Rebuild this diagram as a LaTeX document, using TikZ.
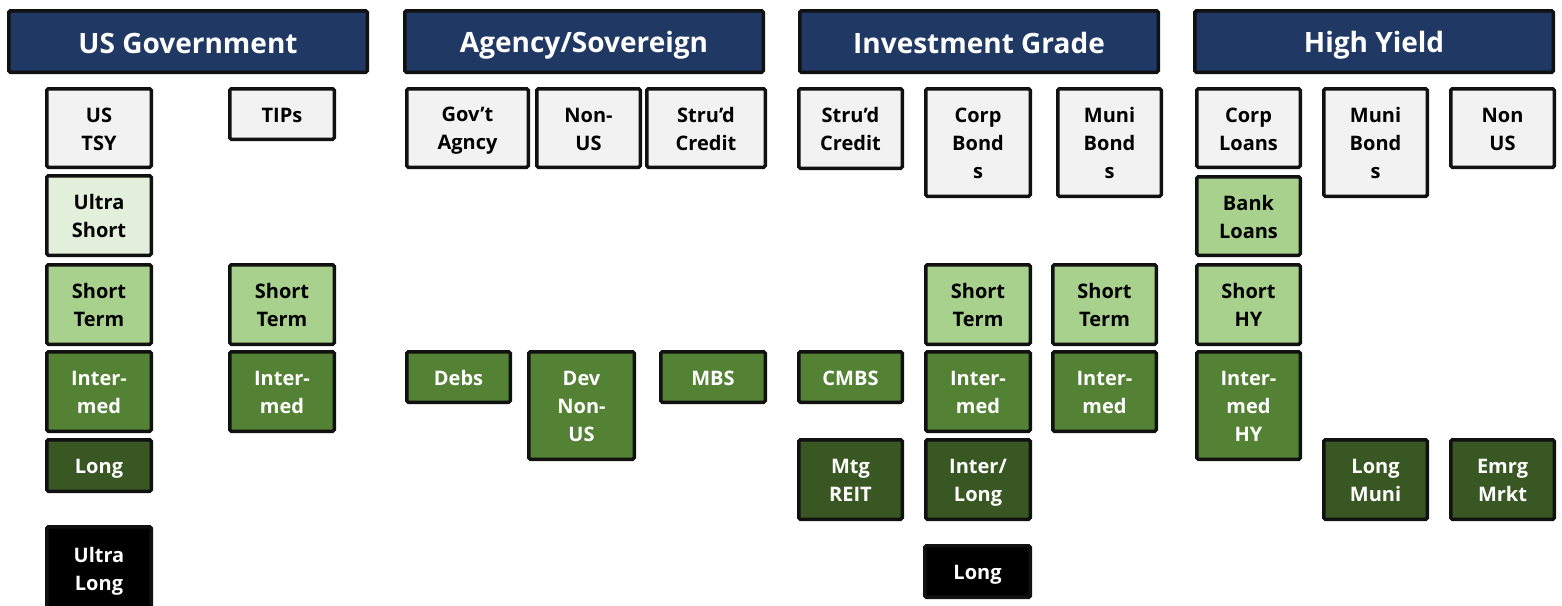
\documentclass[tikz,border=0pt]{standalone}
\usepackage{fontspec}
\setmainfont{Open Sans}
\definecolor{navy}{HTML}{203864}
\definecolor{cellgray}{HTML}{F2F2F2}
\definecolor{palegreen}{HTML}{E2EFDA}
\definecolor{lightgreen}{HTML}{A9D18E}
\definecolor{midgreen}{HTML}{548235}
\definecolor{darkgreen}{HTML}{385723}
\definecolor{edge}{HTML}{111111}
% struts fixing the height of the first line and the depth of the last one
\newcommand{\cellstrut}{\rule[-4pt]{0pt}{24pt}}
\newcommand{\headstrut}{\rule[-4pt]{0pt}{32pt}}
\tikzset{
  cellbase/.style={draw=edge, line width=3.5pt, rounded corners=1.5pt, inner sep=0pt,
    align=center, font=\fontsize{20}{28}\selectfont\bfseries},
  header/.style={cellbase, fill=navy, text=white, font=\fontsize{28}{32}\selectfont\bfseries,
    execute at begin node=\headstrut, execute at end node=\headstrut},
  cgray/.style={cellbase, fill=cellgray, text=black},
  cpale/.style={cellbase, fill=palegreen, text=black},
  clight/.style={cellbase, fill=lightgreen, text=black},
  cmid/.style={cellbase, fill=midgreen, text=white},
  cdark/.style={cellbase, fill=darkgreen, text=white},
  cblack/.style={cellbase, fill=black, text=white},
}
% #1 name, #2 left, #3 top, #4 right, #5 bottom (outer edges), #6 style, #7 text
\newcommand{\cellbox}[7]{%
  \pgfmathsetmacro\cbw{#4-#2-3.5}%
  \pgfmathsetmacro\cbh{#5-#3-3.5}%
  \pgfmathsetmacro\cbx{(#2+#4)/2}%
  \pgfmathsetmacro\cby{(#3+#5)/2}%
  \node[#6, minimum width=\cbw pt, minimum height=\cbh pt] (#1) at (\cbx,\cby) {\cellstrut#7\cellstrut};%
}
\begin{document}
\begin{tikzpicture}[x=1pt,y=-1pt]
\useasboundingbox (0,0) rectangle (1562,605);
\clip (0,0) rectangle (1562,605);
\fill[white] (0,0) rectangle (1562,605);

% sector headers
\cellbox{hgov}{7}{9}{369}{74}{header}{US Government}
\cellbox{hagy}{403}{9}{765}{74}{header}{Agency/Sovereign}
\cellbox{hig}{798}{9}{1160}{74}{header}{Investment Grade}
\cellbox{hhy}{1193}{9}{1555}{74}{header}{High Yield}

% US Government
\cellbox{ustsy}{45}{87}{153}{169}{cgray}{US\\TSY}
\cellbox{tips}{228}{87}{336}{141}{cgray}{TIPs}
\cellbox{ultrashort}{45}{174}{153}{257}{cpale}{Ultra\\Short}
\cellbox{stgov}{45}{263}{153}{346}{clight}{Short\\Term}
\cellbox{sttips}{228}{263}{336}{346}{clight}{Short\\Term}
\cellbox{imgov}{45}{350}{153}{433}{cmid}{Inter-\\med}
\cellbox{imtips}{228}{350}{336}{433}{cmid}{Inter-\\med}
\cellbox{longgov}{45}{438}{153}{493}{cdark}{Long}
\cellbox{ultralong}{45}{525}{153}{612}{cblack}{Ultra\\Long}

% Agency / Sovereign
\cellbox{govag}{405}{87}{530}{169}{cgray}{Gov’t\\Agncy}
\cellbox{nonus}{535}{87}{642}{169}{cgray}{Non-\\US}
\cellbox{strudA}{645}{87}{767}{169}{cgray}{Stru’d\\Credit}
\cellbox{debs}{405}{350}{512}{404}{cmid}{Debs}
\cellbox{devnonus}{527}{350}{636}{461}{cmid}{Dev\\Non-\\US}
\cellbox{mbs}{659}{350}{767}{404}{cmid}{MBS}

% Investment Grade
\cellbox{strudB}{797}{87}{904}{170}{cgray}{Stru’d\\Credit}
\cellbox{corpb}{924}{87}{1032}{198}{cgray}{Corp\\Bond\\s}
\cellbox{munib}{1056}{87}{1163}{198}{cgray}{Muni\\Bond\\s}
\cellbox{stcorp}{924}{263}{1032}{346}{clight}{Short\\Term}
\cellbox{stmuni}{1051}{263}{1158}{346}{clight}{Short\\Term}
\cellbox{cmbs}{797}{350}{904}{404}{cmid}{CMBS}
\cellbox{imcorp}{924}{350}{1032}{433}{cmid}{Inter-\\med}
\cellbox{immuni}{1051}{350}{1158}{433}{cmid}{Inter-\\med}
\cellbox{mtgreit}{797}{438}{904}{521}{cdark}{Mtg\\REIT}
\cellbox{interlong}{924}{438}{1032}{521}{cdark}{Inter/\\Long}
\cellbox{longcorp}{923}{544}{1032}{599}{cblack}{Long}

% High Yield
\cellbox{corpl}{1195}{87}{1302}{169}{cgray}{Corp\\Loans}
\cellbox{munibhy}{1322}{87}{1429}{198}{cgray}{Muni\\Bond\\s}
\cellbox{nonushy}{1449}{87}{1556}{169}{cgray}{Non\\US}
\cellbox{bank}{1195}{175}{1302}{257}{clight}{Bank\\Loans}
\cellbox{shorthy}{1195}{263}{1302}{346}{clight}{Short\\HY}
\cellbox{imhy}{1195}{350}{1302}{461}{cmid}{Inter-\\med\\HY}
\cellbox{longmuni}{1322}{438}{1429}{521}{cdark}{Long\\Muni}
\cellbox{emrg}{1449}{438}{1556}{521}{cdark}{Emrg\\Mrkt}
\end{tikzpicture}
\end{document}
